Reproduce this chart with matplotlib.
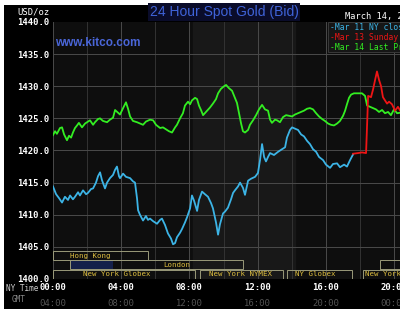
import numpy as np
import matplotlib
matplotlib.use('Agg')
import matplotlib.pyplot as plt
from matplotlib.patches import Rectangle
from matplotlib.transforms import blended_transform_factory

# hours after NY midnight / price in USD
mar11_h = [0.00,0.18,0.35,0.53,0.70,0.88,1.00,1.17,1.29,1.47,1.58,1.76,1.94,2.05,2.23,2.35,2.52,2.64,2.76,2.87,
           3.05,3.17,3.34,3.52,3.64,3.75,3.87,3.93,4.11,4.28,4.52,4.69,4.81,4.93,4.99,5.10,5.28,5.45,5.57,5.69,
           5.87,6.10,6.28,6.39,6.57,6.74,6.92,7.04,7.16,7.27,7.45,7.57,7.74,7.86,8.04,8.15,8.27,8.45,8.56,8.74,
           8.91,9.09,9.27,9.38,9.56,9.68,9.79,9.97,10.09,10.26,10.44,10.56,10.67,10.85,10.97,11.14,11.26,11.44,11.61,11.85,
           12.02,12.14,12.26,12.38,12.49,12.61,12.73,12.96,13.20,13.43,13.61,13.72,13.90,14.02,14.19,14.37,14.55,14.72,14.90,15.07,
           15.25,15.43,15.60,15.84,16.01,16.25,16.42,16.66,16.83,17.07,17.24,17.42,17.60]
mar11_p = [1414.4,1413.2,1412.6,1411.9,1412.8,1412.3,1413.0,1412.4,1412.8,1413.5,1413.0,1413.8,1413.2,1413.4,1414.0,1414.1,1415.0,1416.0,1416.6,1415.4,
           1414.1,1415.0,1415.7,1416.2,1417.0,1417.5,1416.0,1415.7,1416.4,1415.9,1415.7,1415.2,1415.0,1412.5,1410.7,1410.0,1409.1,1409.8,1409.2,1409.4,
           1409.0,1408.6,1409.2,1409.4,1408.4,1407.1,1406.3,1405.4,1405.6,1406.5,1407.2,1407.8,1408.8,1409.6,1411.0,1413.0,1412.2,1410.6,1412.3,1413.6,
           1413.2,1412.8,1411.8,1411.0,1408.8,1406.9,1408.5,1410.2,1410.5,1411.1,1412.4,1413.4,1413.8,1414.4,1415.0,1414.2,1413.1,1415.3,1415.6,1415.9,
           1416.5,1418.5,1421.0,1419.0,1418.3,1419.0,1419.6,1419.3,1419.8,1420.2,1420.5,1422.0,1423.2,1423.6,1423.4,1423.2,1422.5,1422.2,1421.5,1421.0,
           1420.2,1419.8,1419.0,1418.5,1417.8,1417.3,1417.9,1418.0,1417.4,1417.8,1417.5,1418.5,1419.4]

mar13_h = [17.60,17.89,18.12,18.36,18.42,18.48,18.65,18.77,18.89,19.00,19.12,19.24,19.35,19.47,19.59,19.71,19.88,20.06,20.23,20.41]
mar13_p = [1419.5,1419.6,1419.7,1419.6,1424.0,1428.5,1428.3,1429.5,1431.0,1432.3,1431.0,1430.0,1428.3,1427.8,1427.3,1427.6,1427.2,1426.2,1426.8,1426.0]

mar14_h = [0.00,0.12,0.23,0.41,0.53,0.65,0.82,0.94,1.06,1.17,1.29,1.41,1.52,1.70,1.88,2.05,2.17,2.35,2.46,2.64,
           2.76,2.93,3.17,3.34,3.52,3.64,3.81,3.93,4.11,4.28,4.40,4.52,4.69,4.93,5.10,5.28,5.45,5.69,5.87,6.04,
           6.28,6.45,6.63,6.80,6.98,7.16,7.27,7.45,7.62,7.74,7.92,8.04,8.15,8.33,8.45,8.56,8.68,8.80,8.97,9.21,
           9.38,9.56,9.68,9.85,10.03,10.15,10.32,10.50,10.67,10.79,10.91,11.03,11.14,11.26,11.44,11.55,11.73,11.91,12.08,12.26,
           12.43,12.61,12.73,12.84,13.02,13.14,13.31,13.49,13.67,13.84,14.02,14.19,14.37,14.55,14.72,14.90,15.07,15.25,15.43,15.60,
           15.78,15.95,16.13,16.30,16.48,16.66,16.83,17.01,17.13,17.24,17.36,17.48,17.65,17.89,18.12,18.30,18.42,18.59,18.77,18.94,
           19.12,19.30,19.47,19.65,19.82,20.00,20.18,20.41]
mar14_p = [1422.4,1423.0,1422.6,1423.5,1423.6,1422.5,1421.6,1422.3,1422.0,1422.8,1423.5,1423.9,1424.3,1423.6,1424.2,1424.5,1424.7,1424.0,1424.4,1424.9,
           1425.0,1424.6,1424.4,1424.8,1425.1,1426.3,1425.9,1425.6,1426.6,1427.5,1426.5,1425.3,1424.6,1424.4,1424.2,1424.0,1424.5,1424.8,1424.7,1424.0,
           1423.5,1423.6,1423.3,1423.0,1422.8,1423.6,1424.0,1425.0,1425.8,1427.0,1427.6,1427.2,1427.8,1428.2,1428.0,1427.0,1426.3,1425.5,1426.0,1426.7,
           1427.3,1428.0,1428.9,1429.6,1430.0,1430.2,1429.7,1429.3,1428.2,1427.4,1425.8,1424.2,1423.0,1422.8,1423.2,1424.0,1424.7,1425.5,1426.4,1427.1,
           1426.4,1426.2,1424.8,1424.3,1424.8,1424.7,1424.4,1425.2,1425.5,1425.4,1425.3,1425.6,1425.8,1426.0,1426.2,1426.5,1426.6,1426.4,1425.8,1425.3,
           1424.9,1424.6,1424.2,1424.0,1423.9,1424.2,1424.6,1425.4,1426.2,1427.2,1428.2,1428.7,1428.9,1428.9,1428.9,1428.5,1427.0,1426.8,1426.6,1426.4,
           1426.0,1426.3,1425.8,1426.0,1425.5,1426.4,1425.8,1425.9]

yticks = [1400, 1405, 1410, 1415, 1420, 1425, 1430, 1435, 1440]
xticks = [0, 4, 8, 12, 16, 20]
ny_labels = ['00:00', '04:00', '08:00', '12:00', '16:00', '20:00']
gmt_labels = ['04:00', '08:00', '12:00', '16:00', '20:00', '00:00']

# trading sessions: name, start, end, row (0 top), label start
sessions = [('Hong Kong', 0.0, 5.57, 0, 1.0),
            ('London', 1.0, 11.14, 1, 6.45),
            ('New York Globex', 0.0, 8.33, 2, 1.76),
            ('New York NYMEX', 8.62, 13.49, 2, 9.15),
            ('NY Globex', 13.72, 17.54, 2, 14.2),
            ('New York Globex', 18.18, 24.0, 2, 18.3),
            ('London', 19.18, 24.0, 1, 30.0)]
session_rows = [(1402.9, 1404.4), (1401.5, 1402.9), (1400.05, 1401.45)]

fig = plt.figure(figsize=(4.0, 3.09), dpi=100)
fig.patch.set_facecolor('white')
fig.patches.append(Rectangle((4/400, 0), 1, 1 - 5/309, transform=fig.transFigure,
                             facecolor='black', edgecolor='none', zorder=-10))

ax = fig.add_axes([53/400, 1 - 279/309, 347/400, 257/309])
ax.set_facecolor('#0e0e0e')
ax.set_xlim(0, 20.35)
ax.set_ylim(1400, 1440)
ax.axvspan(8.2, 14.2, color='#181818', zorder=0)

for h in np.arange(0, 22, 2):
    ax.axvline(h, color='#4a4a4a' if h % 4 == 0 else '#333333', lw=0.7, zorder=1)
for p in yticks[1:-1]:
    ax.axhline(p, color='#4a4a4a', lw=0.7, zorder=1)

ax.plot(mar11_h, mar11_p, color='#3cb4e6', lw=1.3, zorder=3)
ax.plot(mar14_h, mar14_p, color='#33ee22', lw=1.3, zorder=3)
ax.plot(mar13_h, mar13_p, color='#ee1515', lw=1.3, zorder=4)

# session boxes
ax.add_patch(Rectangle((1.0, 1401.5), 2.5, 1.4, facecolor='#14204a', edgecolor='none', zorder=2))
for name, s, e, row, lx in sessions:
    lo, hi = session_rows[row]
    ax.add_patch(Rectangle((s, lo), e - s, hi - lo, facecolor='none',
                           edgecolor='#9a9a7a', lw=0.7, zorder=2))
    ax.text(lx, (lo + hi) / 2, name, color='#e0c040', fontsize=5.3,
            family='DejaVu Sans Mono', va='center', ha='left', zorder=5, clip_on=True)

for sp in ax.spines.values():
    sp.set_visible(False)
ax.set_yticks(yticks, ['%.1f' % v for v in yticks])
ax.set_xticks(xticks, ny_labels)
ax.tick_params(length=0)
ax.tick_params(axis='y', pad=2.5, labelsize=6.4, labelcolor='white')
ax.tick_params(axis='x', pad=3, labelsize=6.4, labelcolor='white')
for lab in ax.get_yticklabels() + ax.get_xticklabels():
    lab.set_family('DejaVu Sans Mono')
    lab.set_fontweight('bold')

trans = blended_transform_factory(ax.transData, ax.transAxes)
for h, g in zip(xticks, gmt_labels):
    ax.text(h, -0.078, g, transform=trans, color='#555555', fontsize=6.4,
            family='DejaVu Sans Mono', ha='center', va='top', clip_on=False)

fig.text(38/400, 1 - 288.5/309, 'NY Time', color='#cccccc', fontsize=5.6,
         family='DejaVu Sans Mono', va='center', ha='right')
fig.text(12/400, 1 - 299/309, 'GMT', color='#888888', fontsize=5.6,
         family='DejaVu Sans Mono', va='center', ha='left')
fig.text(50/400, 1 - 12/309, 'USD/oz', color='white', fontsize=6.4,
         family='DejaVu Sans Mono', va='center', ha='right')

fig.text(224/400, 1 - 12/309, '24 Hour Spot Gold (Bid)', color='#3f63d8', fontsize=10,
         family='Liberation Sans', ha='center', va='center',
         bbox=dict(facecolor='#0a0c2a', edgecolor='none', pad=1.2))
fig.text(55/400, 1 - 43/309, 'www.kitco.com', color='#4a66d8', fontsize=8.5,
         family='Liberation Sans', fontweight='bold', ha='left', va='center')

fig.text(345/400, 1 - 16/309, 'March 14, 2011', color='white', fontsize=6.2,
         family='DejaVu Sans Mono', va='center', ha='left')
fig.patches.append(Rectangle((328/400, 1 - 52/309), 80/400, 30/309, transform=fig.transFigure,
                             facecolor='#161616', edgecolor='#3a3a3a', lw=0.7, zorder=5))
legend_items = [('-Mar 11 NY close', '#3cb4e6'), ('-Mar 13 Sunday', '#ee1515'),
                ('-Mar 14 Last Price', '#33ee22')]
for i, (txt, col) in enumerate(legend_items):
    fig.text(330/400, 1 - (27 + i * 10.5)/309, txt, color=col, fontsize=5.8,
             family='DejaVu Sans Mono', va='center', ha='left', zorder=6)

fig.savefig('out.png', dpi=100, facecolor=fig.get_facecolor())
